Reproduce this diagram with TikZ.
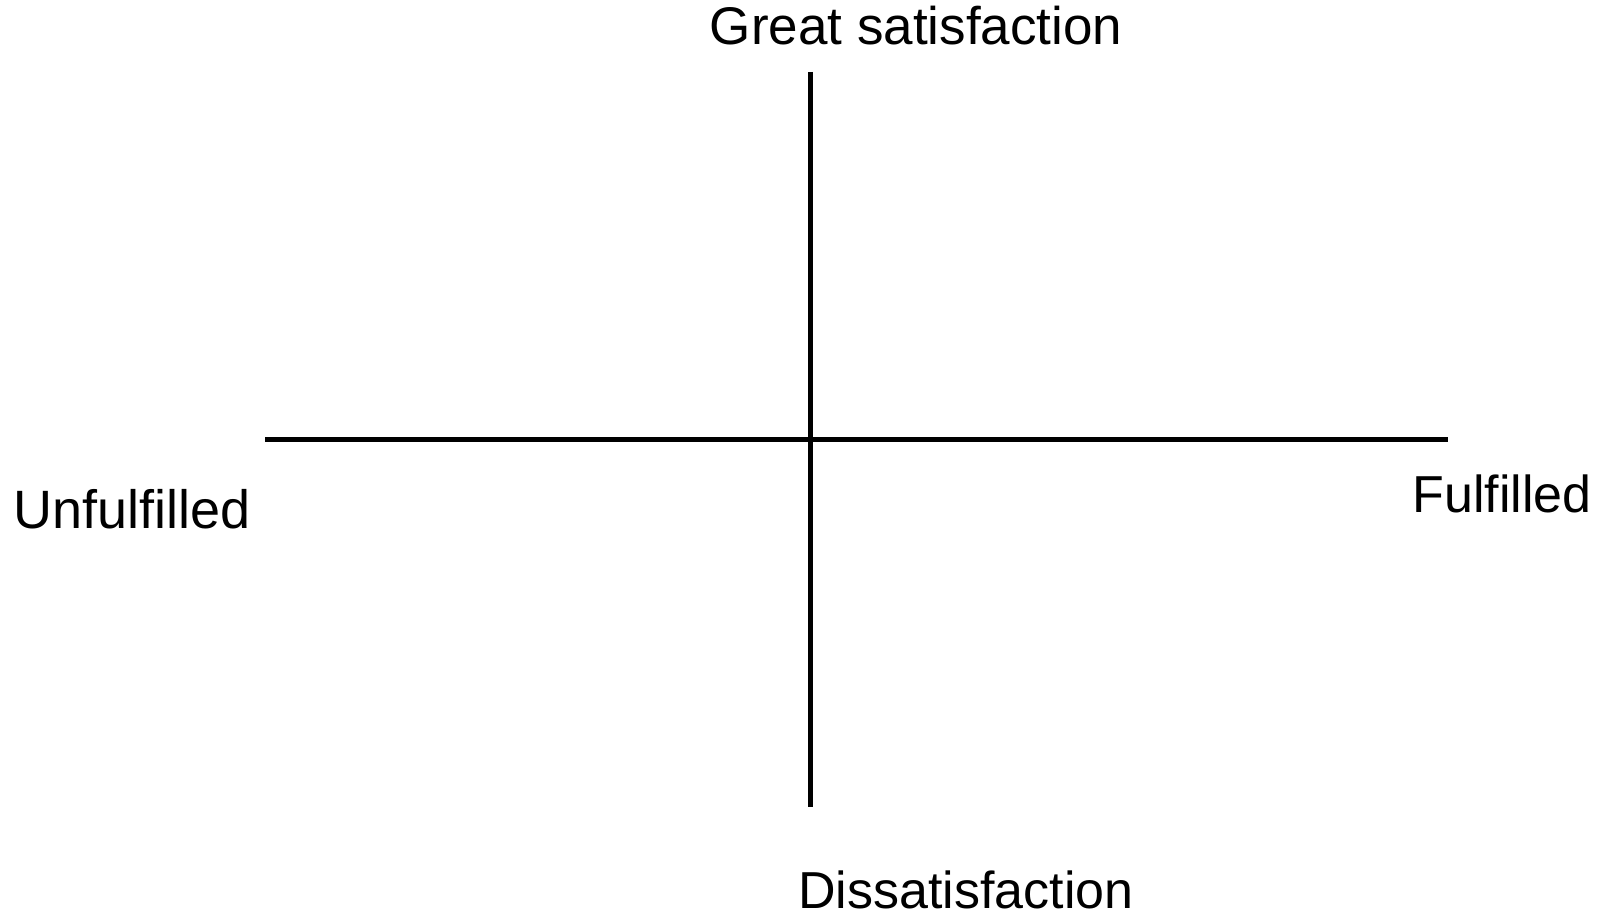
\documentclass[tikz,border=0pt]{standalone}
\usepackage{fontspec}
\setmainfont{Liberation Sans}
\usetikzlibrary{positioning}

\begin{document}
\begin{tikzpicture}[
  x=1pt, y=-1pt,
  axis/.style={line width=5pt, black},
  lbl/.style={anchor=base, inner sep=0pt, font=\fontsize{52}{60}\selectfont},
]
\useasboundingbox (0,0) rectangle (1609,917);
% axis end points
\coordinate (west)  at (265,439);
\coordinate (east)  at (1448,439);
\coordinate (north) at (810,72);
\coordinate (south) at (810,807);
\draw [axis] (west) -- (east);
\draw [axis] (north) -- (south);
% labels
\node (great) [lbl, font=\fontsize{53}{60}\selectfont] at (916,45) {Great satisfaction};
\node (unful) [lbl, font=\fontsize{54}{62}\selectfont] at (132,528) {Unfulfilled};
\node (ful)   [lbl] at (1502,512) {Fulfilled};
\node (dis)   [lbl] at (966,908) {Dissatisfaction};
\end{tikzpicture}
\end{document}
